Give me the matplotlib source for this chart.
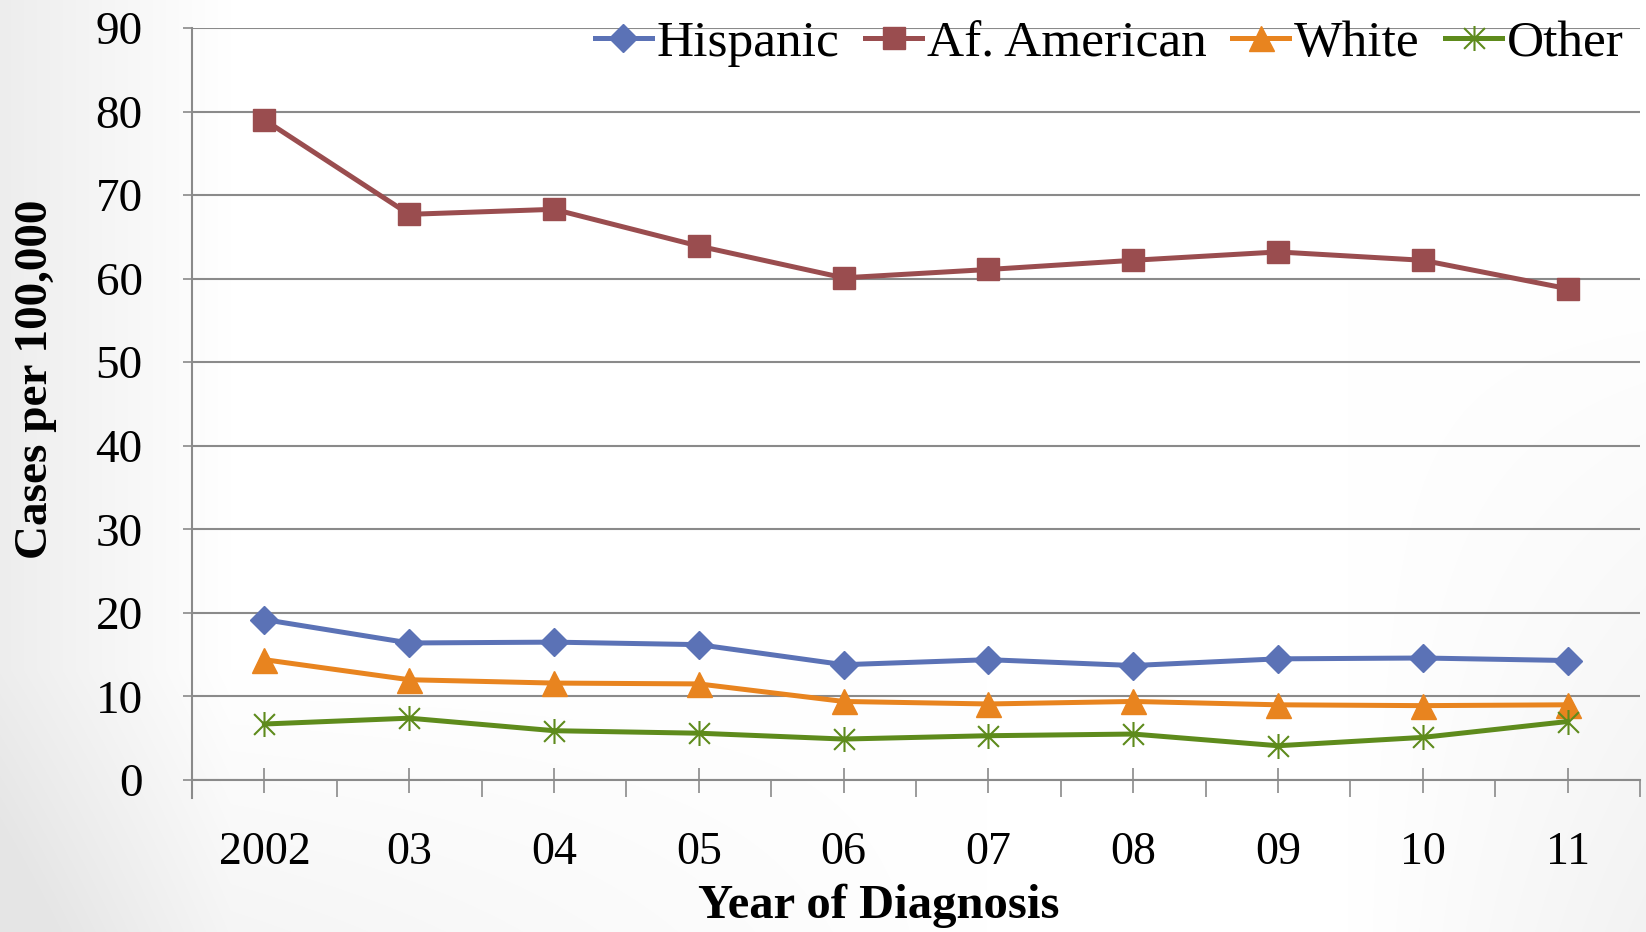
import matplotlib
matplotlib.use("Agg")
import matplotlib.pyplot as plt
import numpy as np
from matplotlib.path import Path

years = ["2002", "03", "04", "05", "06", "07", "08", "09", "10", "11"]
hispanic = [19.2, 16.4, 16.5, 16.2, 13.8, 14.4, 13.7, 14.5, 14.6, 14.3]
af_american = [79.0, 67.7, 68.3, 63.9, 60.1, 61.1, 62.2, 63.2, 62.2, 58.8]
white = [14.4, 12.0, 11.6, 11.5, 9.4, 9.1, 9.4, 9.0, 8.9, 9.0]
other = [6.7, 7.4, 5.9, 5.6, 4.9, 5.3, 5.5, 4.1, 5.1, 7.0]
y_ticks = [0, 10, 20, 30, 40, 50, 60, 70, 80, 90]

W, H = 1646, 932
fig = plt.figure(figsize=(W / 100, H / 100), dpi=100)

# background gradient (slide background)
bg = fig.add_axes([0, 0, 1, 1], zorder=-10)
xx, yy = np.meshgrid(np.linspace(0, 1, W), np.linspace(0, 1, H))
shade = (np.clip(1 - xx / 0.14, 0, 1) * 0.07
         + np.clip((yy - 0.72) / 0.28, 0, 1) * 0.05 * np.clip(1 - xx / 0.6, 0, 1)
         + np.clip((xx - 0.82) / 0.18, 0, 1) * 0.05 * np.clip((yy - 0.3) / 0.7, 0, 1))
shade = np.clip(shade, 0, 0.1)
img = np.dstack([1 - shade] * 3)
bg.imshow(img, aspect="auto", extent=[0, 1, 0, 1], origin="upper")
bg.axis("off")

ax = fig.add_axes([192 / W, 1 - 780 / H, (1640 - 192) / W, (780 - 28) / H])
ax.set_facecolor("none")

serif = ["Liberation Serif", "DejaVu Serif"]
grey = "#8a8a8a"

x = np.arange(len(years))
asterisk = Path([(-1, -1), (1, 1), (-1, 1), (1, -1), (0, -1.2), (0, 1.2)],
                [Path.MOVETO, Path.LINETO, Path.MOVETO, Path.LINETO, Path.MOVETO, Path.LINETO])

lw = 3.6
ax.plot(x, hispanic, color="#5B72B6", lw=lw, marker="D", ms=14, label="Hispanic", zorder=5)
ax.plot(x, af_american, color="#9A4D4F", lw=lw, marker="s", ms=16, label="Af. American", zorder=5)
ax.plot(x, white, color="#E8841F", lw=lw, marker="^", ms=18, label="White", zorder=5)
ax.plot(x, other, color="#5E8B1C", lw=lw, marker=asterisk, ms=18, mew=1.5,
        mfc="none", mec="#5E8B1C", label="Other", zorder=5)

ax.set_xlim(-0.5, len(years) - 0.5)
ax.set_ylim(0, 90)
ax.set_yticks(y_ticks)
ax.set_xticks(x)
ax.set_xticklabels(years)
ax.set_xticks(np.arange(-0.5, len(years)), minor=True)

ax.grid(axis="y", color=grey, lw=1.5, zorder=0)
for s in ["top", "right"]:
    ax.spines[s].set_visible(False)
for s in ["left", "bottom"]:
    ax.spines[s].set_color(grey)
    ax.spines[s].set_linewidth(1.5)
ax.spines["left"].set_bounds(-2.2, 90)

ax.tick_params(axis="y", direction="out", length=6.5, width=1.2, color=grey, pad=29,
               labelsize=34)
ax.tick_params(axis="x", which="major", direction="inout", length=18, width=1.2,
               color=grey, pad=28, labelsize=33)
ax.tick_params(axis="x", which="minor", direction="out", length=12.5, width=1.2, color=grey)
for lab in ax.get_xticklabels() + ax.get_yticklabels():
    lab.set_fontfamily(serif)

ax.set_xlabel("Year of Diagnosis", fontsize=35, fontweight="bold", family=serif)
ax.xaxis.set_label_coords(0.474, -0.138)
ax.set_ylabel("Cases per 100,000", fontsize=34, fontweight="bold", family=serif)
ax.yaxis.set_label_coords(-0.093, 0.533)

leg = ax.legend(loc="center right", bbox_to_anchor=(1624 / W, 1 - 44 / H),
                bbox_transform=fig.transFigure, ncol=4, frameon=False,
                prop={"family": serif, "size": 37}, handlelength=1.1,
                handletextpad=0.1, columnspacing=0.5, borderaxespad=0, borderpad=0)

fig.savefig("out.png", dpi=100)
